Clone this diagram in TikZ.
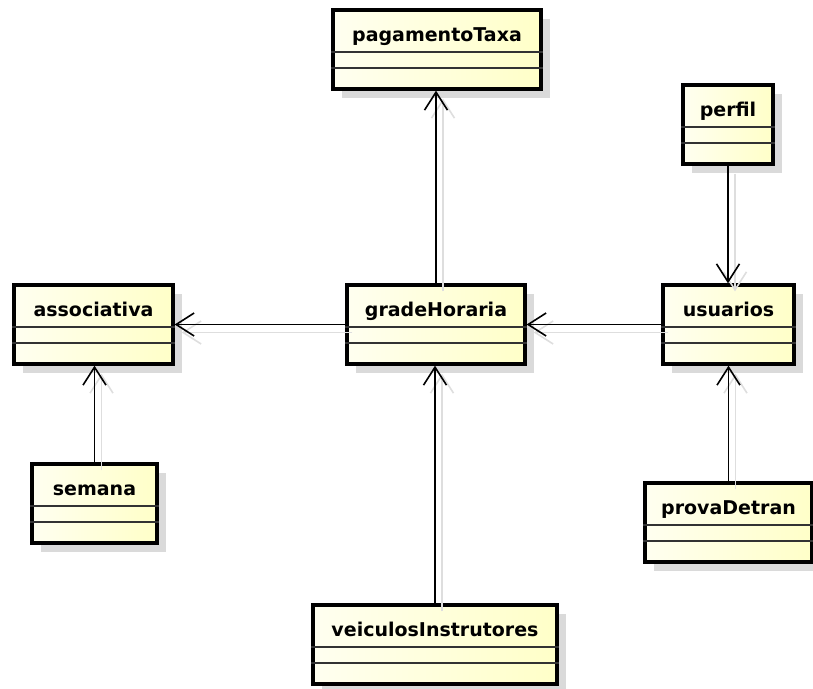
\documentclass[tikz,border=0pt]{standalone}
\usepackage{fontspec}
\setmainfont{DejaVu Sans}
\usepackage{tikz}
\usetikzlibrary{arrows.meta,shadows,calc,positioning}
\definecolor{umllight}{RGB}{255,255,240}
\definecolor{umlfill}{RGB}{255,255,200}
\definecolor{umlshadow}{RGB}{218,218,218}
\tikzstyle{classbox}=[draw,line width=3.3pt,rectangle,minimum height=79pt,inner sep=0pt,
  left color=umllight,right color=umlfill,
  drop shadow={shadow xshift=9pt,shadow yshift=-9pt,fill=umlshadow,opacity=1}]
\tikzstyle{classname}=[anchor=base,inner sep=0pt,font=\fontsize{19}{21}\selectfont\bfseries]
\tikzstyle{sepline}=[line width=1.9pt,black!80]
\tikzstyle{assoc}=[line width=1.6pt,-{Straight Barb[length=18pt,width=23pt]}]
\tikzstyle{assocshadow}=[assoc,black!13]

\begin{document}
\begin{tikzpicture}[x=1pt,y=-1pt]
\useasboundingbox (0,0) rectangle (813,688);
\foreach \nm/\x/\y/\w in {pagamentoTaxa/437/10/208, perfil/728/85/90, associativa/93.5/285/159,
    gradeHoraria/436/285/178, usuarios/728.5/285/131, semana/94.5/464/125,
    provaDetran/728.5/483/167, veiculosInstrutores/435/605/244}{
  \node [classbox, minimum width=\w] (\nm) at (\x,\y+39.5) {};
  \node [classname] at ([yshift=-33pt]\nm.north) {\nm};
  \draw [sepline] ([yshift=-44pt]\nm.north west) -- ([yshift=-44pt]\nm.north east);
  \draw [sepline] ([yshift=-60pt]\nm.north west) -- ([yshift=-60pt]\nm.north east);
}
\foreach \from/\to in {gradeHoraria.north/gradeHoraria.north |- pagamentoTaxa.south,
    gradeHoraria.west/associativa.east, usuarios.west/gradeHoraria.east,
    perfil.south/perfil.south |- usuarios.north,
    provaDetran.north/provaDetran.north |- usuarios.south,
    semana.north/semana.north |- associativa.south,
    veiculosInstrutores.north/veiculosInstrutores.north |- gradeHoraria.south}{
  \draw [assocshadow] ($(\from)+(7,8)$) -- ($(\to)+(7,8)$);
  \draw [assoc] (\from) -- (\to);
}
\end{tikzpicture}
\end{document}
